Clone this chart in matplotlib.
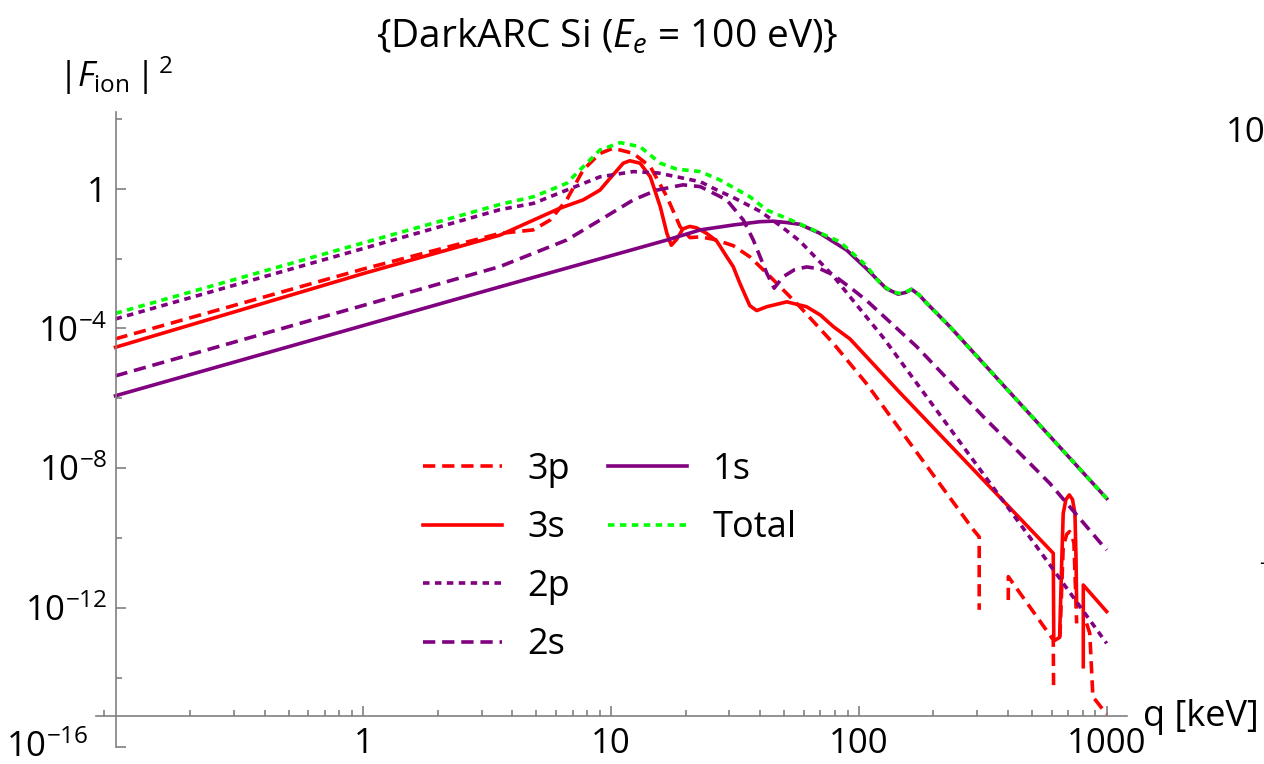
import numpy as np
import matplotlib.pyplot as plt
from matplotlib.ticker import LogLocator, NullFormatter

plt.rcParams['font.family'] = ['Open Sans', 'DejaVu Sans']
plt.rcParams['mathtext.fontset'] = 'custom'
plt.rcParams['mathtext.rm'] = 'Open Sans'
plt.rcParams['mathtext.it'] = 'Open Sans:italic'
plt.rcParams['mathtext.bf'] = 'Open Sans:bold'

nan = np.nan

# q in keV, log10 |F_ion|^2 (nan = gap in the curve)
q_3p = [0.1, 1.0, 3.56, 4.85, 5.67, 6.62, 7.72, 9.02, 10.2, 12.3, 14.4, 16.8, 19.0,
        20.8, 22.9, 26.0, 31.1, 36.3, 42.5, 57.8, 78.9, 107, 146, 290, 306, 306, nan,
        401, 401, 609, 611, nan, 648, 668, 690, 708, 725, 738, 757, nan,
        830, 855, 880, 1000]
lf_3p = [-4.30, -2.30, -1.28, -1.18, -0.90, -0.32, 0.54, 1.01, 1.16, 1.01, 0.63, -0.23, -1.09,
         -1.40, -1.38, -1.45, -1.63, -1.95, -2.42, -3.38, -4.43, -5.57, -6.88, -9.77, -9.97, -12.06, nan,
         -11.78, -11.11, -12.92, -14.40, nan, -12.83, -10.25, -9.90, -9.82, -9.95, -10.15, -12.45, nan,
         -12.45, -12.73, -14.55, -15.05]

q_3s = [0.1, 1.0, 3.56, 4.86, 6.21, 7.72, 9.02, 9.91, 11.2, 11.9, 13.1, 14.4, 15.8, 16.8,
        17.5, 18.4, 19.5, 20.8, 22.1, 24.3, 26.7, 29.3, 31.1, 33.1, 36.3, 38.7, 42.5, 51.2,
        61.5, 70, 78.9, 92, 107, 146, 609, 612, 646, 660, 668, 685, 707, 728, 745, 752, 757, nan,
        805, 805, 1000]
lf_3s = [-4.54, -2.43, -1.33, -0.90, -0.56, -0.32, -0.04, 0.30, 0.73, 0.80, 0.73, 0.34, -0.52, -1.28,
         -1.62, -1.45, -1.15, -1.08, -1.12, -1.28, -1.50, -1.95, -2.23, -2.71, -3.35, -3.49, -3.38, -3.24,
         -3.38, -3.62, -3.95, -4.30, -4.80, -5.83, -10.44, -12.95, -12.85, -10.5, -9.30, -8.90, -8.77, -8.90, -9.30, -10.5, -11.97, nan,
         -13.69, -11.35, -12.11]

q_2p = [0.1, 3.56, 4.86, 6.62, 9.02, 12.3, 15.5, 22.9, 27.5, 31.1, 40, 48, 57.8, 78.9, 92, 125, 522, 1000]
lf_2p = [-3.73, -0.60, -0.42, -0.04, 0.34, 0.49, 0.45, 0.20, -0.08, -0.25, -0.65, -1.05, -1.5, -2.5,
         -3.09, -4.25, -10.25, -13.02]

q_2s = [0.1, 3.56, 4.86, 6.62, 9.02, 12.3, 15.3, 19.5, 22.9, 29.3, 34.2, 37.5, 42.5, 45.5, 49.5, 55,
        61.5, 70, 78.9, 95, 107, 171, 318, 590, 1000]
lf_2s = [-5.36, -2.23, -1.85, -1.47, -0.90, -0.32, -0.04, 0.11, 0.06, -0.32, -0.90, -1.47, -2.42, -2.85,
         -2.52, -2.32, -2.24, -2.30, -2.47, -2.90, -3.19, -4.52, -6.53, -8.44, -10.35]

q_1s = [0.1, 3.56, 16.8, 22.9, 31.1, 39.9, 45, 51.2, 57.8, 69.7, 89.3, 107, 129, 144, 155, 163, 175,
        188, 233, 1000]
lf_1s = [-5.93, -2.81, -1.47, -1.18, -1.04, -0.945, -0.93, -0.97, -1.02, -1.28, -1.76, -2.28, -2.86,
         -3.02, -2.97, -2.88, -3.04, -3.28, -3.95, -8.87]

q_tot = [0.1, 1.0, 3.56, 4.86, 6.62, 7.72, 9.02, 10.9, 13.1, 15.8, 18.4, 22.9, 27.5, 36.3, 42.5, 54,
         65.5, 83.8, 107, 122, 135, 146, 155, 163, 175, 188, 233, 1000]
lf_tot = [-3.57, -1.55, -0.45, -0.23, 0.155, 0.63, 1.11, 1.32, 1.20, 0.73, 0.56, 0.49, 0.25, -0.23,
          -0.61, -0.92, -1.18, -1.52, -2.20, -2.71, -2.94, -3.0, -2.96, -2.88, -3.04, -3.28, -3.95, -8.87]

RED, PURPLE, GREEN = '#ff0000', '#800080', '#00ff00'
dash = (3.4, 1.9)
dot = (1.8, 1.5)
lw = 2.6

fig = plt.figure(figsize=(12.64, 7.64), dpi=100)
ax = fig.add_axes([95.7/1264, 1 - 747.4/764, 1031/1264, (747.4 - 111.7)/764])

def curve(q, lf, color, dashes=None, label=None):
    kw = dict(color=color, lw=lw, label=label, dash_capstyle='butt', solid_joinstyle='round')
    if dashes is not None:
        kw['dashes'] = dashes
    return ax.plot(q, 10.0**np.array(lf), **kw)[0]

l3p = curve(q_3p, lf_3p, RED, dash, '3p')
l3s = curve(q_3s, lf_3s, RED, None, '3s')
l2p = curve(q_2p, lf_2p, PURPLE, dot, '2p')
l2s = curve(q_2s, lf_2s, PURPLE, dash, '2s')
l1s = curve(q_1s, lf_1s, PURPLE, None, '1s')
ltot = curve(q_tot, lf_tot, GREEN, dot, 'Total')

ax.set_xscale('log')
ax.set_yscale('log')
ax.set_xlim(10**-1.080, 10**3.081)
ax.set_ylim(1e-16, 10**2.205)

for s in ['top', 'right']:
    ax.spines[s].set_visible(False)
ax.spines['left'].set_position(('data', 0.1))
ax.spines['bottom'].set_position(('data', 10**-15.1))
for s in ['left', 'bottom']:
    ax.spines[s].set_color('#808080')
    ax.spines[s].set_linewidth(1.2)

ax.set_xticks([1, 10, 100, 1000], ['1', '10', '100', '1000'])
ax.xaxis.set_minor_locator(LogLocator(base=10, subs=np.arange(2, 10)))
ax.xaxis.set_minor_formatter(NullFormatter())
# lowest label (10^-16) is placed by hand so it stays inside the canvas
ax.set_yticks([1e-16, 1e-12, 1e-8, 1e-4, 1],
              ['', '$10^{-12}$', '$10^{-8}$', '$10^{-4}$', '1'])
ax.set_yticks([1e-14, 1e-10, 1e-6, 1e-2, 1e2], minor=True)
ax.yaxis.set_minor_formatter(NullFormatter())
ax.tick_params(which='both', direction='in', color='#808080', width=1.2, labelsize=25)
ax.tick_params(which='major', length=7)
ax.tick_params(which='minor', length=4)
ax.tick_params(axis='x', which='major', pad=8)
ax.tick_params(axis='y', which='major', pad=6)
ax.text(-0.007, 10**-16.28, '$10^{-16}$', transform=ax.get_yaxis_transform(),
        ha='right', va='baseline', fontsize=25)

fig.text(607/1264, 1 - 37/764, r'{DarkARC Si ($E_e$ = 100 eV)}', ha='center', va='center', fontsize=28)
fig.text(115/1264, 1 - 76/764, r'$|F_{\mathrm{ion}}\,|^{\,2}$', ha='center', va='center', fontsize=25)
fig.text(1143/1264, 1 - 717/764, 'q [keV]', ha='left', va='center', fontsize=26)
fig.text(1226/1264, 1 - 133/764, '10', ha='left', va='center', fontsize=25)
fig.text(1259/1264, 1 - 563/764, '-', ha='left', va='center', fontsize=16)

leg_kw = dict(loc='upper left', bbox_transform=fig.transFigure, frameon=False, fontsize=26,
              borderpad=0, borderaxespad=0, handlelength=2.2, handletextpad=0.69, labelspacing=0.62)
leg1 = ax.legend([l3p, l3s, l2p, l2s], ['3p', '3s', '2p', '2s'],
                 bbox_to_anchor=(423/1264, 1 - 452/764), **leg_kw)
ax.add_artist(leg1)
ax.legend([l1s, ltot], ['1s', 'Total'], bbox_to_anchor=(608/1264, 1 - 452/764), **leg_kw)

fig.savefig('out.png', dpi=100)
